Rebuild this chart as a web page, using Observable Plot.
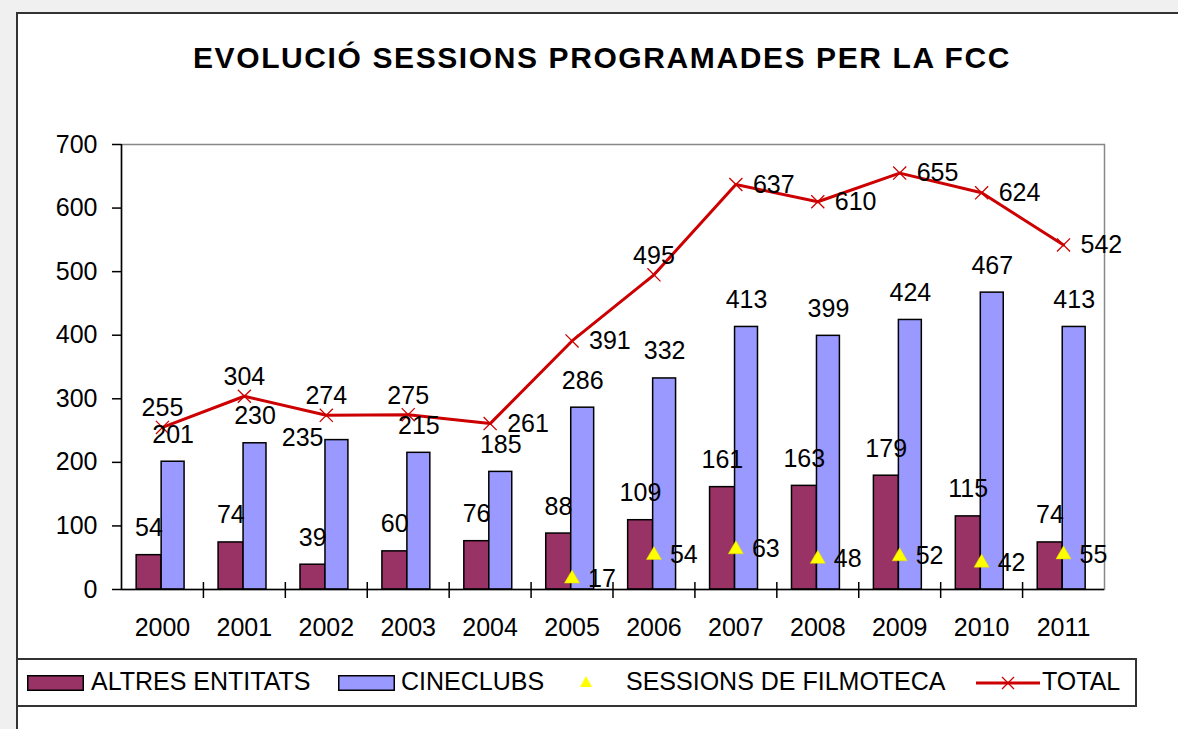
<!DOCTYPE html>
<html>
<head>
<meta charset="utf-8">
<script src="https://cdn.jsdelivr.net/npm/d3@7"></script>
<script src="https://cdn.jsdelivr.net/npm/@observablehq/plot@0.6"></script>
<style>
  html, body { margin: 0; padding: 0; }
  body { width: 1178px; height: 729px; background: #f0f0f0; position: relative; overflow: hidden;
         font-family: "Liberation Sans", Arial, sans-serif; }
  #frame { position: absolute; left: 16px; top: 12px; width: 1200px; height: 760px;
           border: 2px solid #333; background: #fff; box-sizing: border-box; }
  #title { position: absolute; left: 193px; top: 43px; font-size: 30px; line-height: 30px;
           font-weight: bold; white-space: nowrap; letter-spacing: 1.6px; color: #000; }
  #chart { position: absolute; left: 0; top: 0; }
  #legend { position: absolute; left: 16px; top: 658px; width: 1121px; height: 49px;
            border: 2px solid #333; box-sizing: border-box; background: #fff; }
  .lg { position: absolute; top: 669px; font-size: 25px; line-height: 25px; white-space: nowrap; color: #000; }
  .sw { position: absolute; }
</style>
</head>
<body>
<div id="frame"></div>
<div id="title">EVOLUCIÓ SESSIONS PROGRAMADES PER LA FCC</div>
<div id="chart"></div>
<div id="legend"></div>
<svg class="sw" style="left:27px;top:675px" width="57" height="16"><rect x="0.75" y="0.75" width="55.5" height="14.5" fill="#993366" stroke="#000" stroke-width="1.5"/></svg>
<div class="lg" style="left:91px">ALTRES ENTITATS</div>
<svg class="sw" style="left:338px;top:675px" width="57" height="16"><rect x="0.75" y="0.75" width="55.5" height="14.5" fill="#9999ff" stroke="#000" stroke-width="1.5"/></svg>
<div class="lg" style="left:401px">CINECLUBS</div>
<svg class="sw" style="left:578px;top:674px" width="16" height="16"><path d="M8,2 L14,13 L2,13 Z" fill="#ffff00"/></svg>
<div class="lg" style="left:626px">SESSIONS DE FILMOTECA</div>
<svg class="sw" style="left:976px;top:672px" width="64" height="22"><line x1="0" y1="11" x2="64" y2="11" stroke="#cc0000" stroke-width="3"/><path d="M26,5 L38,17 M38,5 L26,17" stroke="#cc0000" stroke-width="1.3"/></svg>
<div class="lg" style="left:1042px">TOTAL</div>
<script>
const years = ["2000","2001","2002","2003","2004","2005","2006","2007","2008","2009","2010","2011"];
const altres = [54, 74, 39, 60, 76, 88, 109, 161, 163, 179, 115, 74];
const cineclubs = [201, 230, 235, 215, 185, 286, 332, 413, 399, 424, 467, 413];
const filmoteca = [null, null, null, null, null, 17, 54, 63, 48, 52, 42, 55];
const total = [255, 304, 274, 275, 261, 391, 495, 637, 610, 655, 624, 542];
const yTicks = [0, 100, 200, 300, 400, 500, 600, 700];
const totalLabelAbove = ["2000", "2001", "2002", "2003", "2006"];
const cineLabelLeft = ["2002"];

const data = years.map((year, i) => ({
  year, altres: altres[i], cineclubs: cineclubs[i], filmoteca: filmoteca[i], total: total[i]
}));
const film = data.filter(d => d.filmoteca != null);

const W = 1178, H = 729, mL = 121, mR = 74, mT = 144, mB = 140;
const bw = (W - mL - mR) / years.length;
const font = 25;
const cineLeft = bw * 0.49;

const chart = Plot.plot({
  width: W, height: H,
  marginLeft: mL, marginRight: mR, marginTop: mT, marginBottom: mB,
  style: { background: "transparent", fontFamily: "'Liberation Sans', Arial, sans-serif", color: "#000" },
  x: { type: "band", domain: years, padding: 0, round: false, axis: null },
  y: { domain: [0, 700], axis: null },
  marks: [
    Plot.frame({ stroke: "#888", strokeWidth: 1.5 }),
    Plot.barY(data, { x: "year", y: "altres", fill: "#993366", stroke: "#000", strokeWidth: 1.5,
                      insetLeft: bw * 0.185, insetRight: bw * 0.51 }),
    Plot.barY(data, { x: "year", y: "cineclubs", fill: "#9999ff", stroke: "#000", strokeWidth: 1.5,
                      insetLeft: cineLeft, insetRight: bw * 0.23 }),
    Plot.ruleY([0], { stroke: "#000", strokeWidth: 1.5 }),
    Plot.ruleX([years[0]], { dx: -bw / 2, stroke: "#000", strokeWidth: 1.5 }),
    Plot.ruleX(years.slice(1), { x: d => d, dx: -bw / 2, stroke: "#000", strokeWidth: 1.5,
                                  insetTop: (H - mT - mB) - 7, insetBottom: -9 }),
    Plot.axisY({ ticks: yTicks, tickSize: 9, tickPadding: 15, fontSize: font, stroke: "#000", strokeWidth: 1.5, label: null }),
    Plot.axisX({ tickSize: 0, tickPadding: 29, fontSize: font, label: null }),
    Plot.line(data, { x: "year", y: "total", stroke: "#cc0000", strokeWidth: 3 }),
    Plot.dot(data, { x: "year", y: "total", symbol: "times", r: 6, stroke: "#cc0000", strokeWidth: 1.3 }),
    Plot.dot(film, { x: "year", y: "filmoteca", symbol: "triangle", r: 5.6, fill: "#ffff00", stroke: "#e6d800", strokeWidth: 0.5 }),
    Plot.text(data, { x: "year", y: "altres", text: "altres", dx: -bw * 0.165, dy: -27, fontSize: font }),
    Plot.text(data.filter(d => !cineLabelLeft.includes(d.year)),
              { x: "year", y: "cineclubs", text: "cineclubs", dx: bw * 0.13, dy: -27, fontSize: font }),
    Plot.text(data.filter(d => cineLabelLeft.includes(d.year)),
              { x: "year", y: "cineclubs", text: "cineclubs", dx: cineLeft - bw / 2 - 2, dy: -2,
                textAnchor: "end", fontSize: font }),
    Plot.text(film, { x: "year", y: "filmoteca", text: "filmoteca", dx: 16, textAnchor: "start", fontSize: font }),
    Plot.text(data.filter(d => totalLabelAbove.includes(d.year)),
              { x: "year", y: "total", text: "total", dy: -19, fontSize: font }),
    Plot.text(data.filter(d => !totalLabelAbove.includes(d.year)),
              { x: "year", y: "total", text: "total", dx: 17, textAnchor: "start", fontSize: font })
  ]
});
document.getElementById("chart").appendChild(chart);
</script>
</body>
</html>
